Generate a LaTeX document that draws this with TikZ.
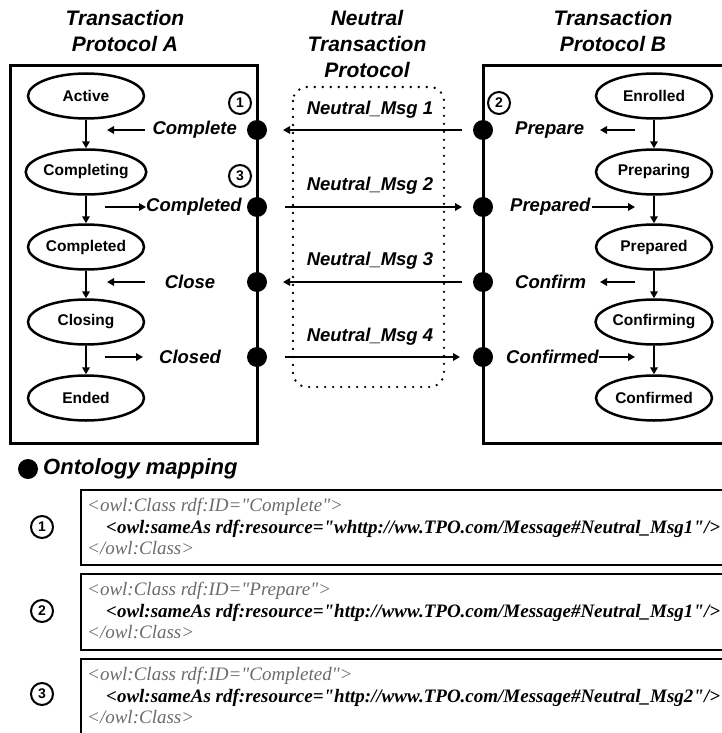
\documentclass[tikz,border=0pt]{standalone}
\usepackage{fontspec}
\setmainfont{Liberation Sans}
\newfontfamily\xmlfont{Liberation Serif}
\usetikzlibrary{arrows.meta,shapes.geometric}
\definecolor{xmlgray}{gray}{0.42}
\begin{document}
\begin{tikzpicture}[x=1pt,y=-1pt,
  st/.style={ellipse,draw,line width=2.5pt,minimum width=116pt,minimum height=45pt,inner sep=0pt,font=\fontsize{15.5}{15.5}\selectfont\bfseries},
  dotn/.style={circle,fill,minimum size=20pt,inner sep=0pt},
  num/.style={circle,draw,line width=2pt,minimum size=22pt,inner sep=0pt,font=\fontsize{14}{14}\selectfont\bfseries},
  arr/.style={line width=2.3pt,-{Triangle[length=7pt,width=7.5pt]}},
  lab/.style={font=\fontsize{18.5}{18.5}\selectfont\bfseries\itshape,inner sep=0pt},
  ttl/.style={font=\fontsize{21}{26}\selectfont\bfseries\itshape,align=center,inner sep=0pt},
  frame/.style={line width=3pt},
  xbox/.style={line width=1.6pt},
  xg/.style={font=\fontsize{19}{19}\selectfont\xmlfont\itshape,text=xmlgray,inner sep=0pt},
  xb/.style={font=\fontsize{19}{19}\selectfont\xmlfont\itshape\bfseries,inner sep=0pt}
]
\useasboundingbox (0,0) rectangle (721,733);
% titles
\node[ttl] (tA) at (125,31) {Transaction\\Protocol A};
\node[ttl] (tN) at (367,43.5) {Neutral\\Transaction\\Protocol};
\node[ttl] (tB) at (613,31) {Transaction\\Protocol B};
% frames
\draw[frame] (10,66) rectangle (257,443);
\draw[frame] (722,66) -- (483,66) -- (483,443) -- (722,443);
\draw[line width=2.6pt,dash pattern=on 0pt off 8pt,line cap=round,rounded corners=14pt] (293,87) rectangle (444,387);
% left states
\node[st] (a1) at (86,96) {Active};
\node[st] (a2) at (86,172) {Completing};
\node[st] (a3) at (86,247) {Completed};
\node[st] (a4) at (86,322) {Closing};
\node[st] (a5) at (86,398) {Ended};
\foreach \i/\j in {a1/a2,a2/a3,a3/a4,a4/a5} \draw[arr] (\i) -- (\j);
% right states
\node[st] (b1) at (654,96) {Enrolled};
\node[st] (b2) at (654,172) {Preparing};
\node[st] (b3) at (654,247) {Prepared};
\node[st] (b4) at (654,322) {Confirming};
\node[st] (b5) at (654,398) {Confirmed};
\foreach \i/\j in {b1/b2,b2/b3,b3/b4,b4/b5} \draw[arr] (\i) -- (\j);
% dots
\foreach \k/\y in {1/130,2/207,3/282,4/357}{
  \node[dotn] (dA\k) at (257,\y) {};
  \node[dotn] (dB\k) at (483,\y) {};
}
% circled numbers
\node[num] (n1) at (240,103) {1};
\node[num] (n3) at (240,176) {3};
\node[num] (n2) at (499,103) {2};
% left labels
\node[lab,anchor=east] (lc1) at (237,130) {Complete};
\coordinate (ls1) at (145,130); \coordinate (le1) at (107,130);
\draw[arr] (ls1) -- (le1);
\node[lab,anchor=west] (lc2) at (146,207) {Completed};
\coordinate (ls2) at (105,207);
\draw[arr] (ls2) -- (lc2.west);
\node[lab] (lc3) at (190,282) {Close};
\coordinate (ls3) at (145,282); \coordinate (le3) at (107,282);
\draw[arr] (ls3) -- (le3);
\node[lab] (lc4) at (190,357) {Closed};
\coordinate (ls4) at (105,357); \coordinate (le4) at (143,357);
\draw[arr] (ls4) -- (le4);
% right labels
\node[lab,anchor=west] (rc1) at (515,130) {Prepare};
\coordinate (rs1) at (635,130); \coordinate (re1) at (600,130);
\draw[arr] (rs1) -- (re1);
\node[lab,anchor=west] (rc2) at (510,207) {Prepared};
\coordinate (rs2) at (592,207); \coordinate (re2) at (635,207);
\draw[arr] (rs2) -- (re2);
\node[lab,anchor=west] (rc3) at (515,282) {Confirm};
\coordinate (rs3) at (635,282); \coordinate (re3) at (600,282);
\draw[arr] (rs3) -- (re3);
\node[lab,anchor=west] (rc4) at (506,357) {Confirmed};
\coordinate (re4) at (635,357);
\draw[arr] (rc4.east) -- (re4);
% neutral messages
\coordinate (m1s) at (462,130); \coordinate (m1e) at (283,130);
\coordinate (m2s) at (285,207); \coordinate (m2e) at (462,207);
\coordinate (m3s) at (462,282); \coordinate (m3e) at (283,282);
\coordinate (m4s) at (285,357); \coordinate (m4e) at (460,357);
\draw[arr] (m1s) -- (m1e);
\draw[arr] (m2s) -- (m2e);
\draw[arr] (m3s) -- (m3e);
\draw[arr] (m4s) -- (m4e);
\node[lab] (mt1) at (370,110) {Neutral\_Msg 1};
\node[lab] (mt2) at (370,186) {Neutral\_Msg 2};
\node[lab] (mt3) at (370,261) {Neutral\_Msg 3};
\node[lab] (mt4) at (370,337) {Neutral\_Msg 4};
% ontology mapping
\node[dotn] (od) at (28,469) {};
\node[font=\fontsize{22}{22}\selectfont\bfseries\itshape,anchor=west,inner sep=0pt] (ot) at (43,469) {Ontology mapping};
\draw[xbox] (722,490) -- (81,490) -- (81,565) -- (722,565);
\draw[xbox] (722,574) -- (81,574) -- (81,650) -- (722,650);
\draw[xbox] (722,659) -- (81,659) -- (81,740);
\node[num] (o1) at (42,527) {1};
\node[num] (o2) at (42,611) {2};
\node[num] (o3) at (42,694) {3};
% xml texts
\node[xg,anchor=base west] (x11) at (87,511) {<owl:Class rdf:ID="Complete">};
\node[xb,anchor=base west] (x12) at (106,533) {<owl:sameAs rdf:resource="whttp://ww.TPO.com/Message\#Neutral\_Msg1"/>};
\node[xg,anchor=base west] (x13) at (87,554) {</owl:Class>};
\node[xg,anchor=base west] (x21) at (87,595) {<owl:Class rdf:ID="Prepare">};
\node[xb,anchor=base west] (x22) at (106,617) {<owl:sameAs rdf:resource="http://www.TPO.com/Message\#Neutral\_Msg1"/>};
\node[xg,anchor=base west] (x23) at (87,638) {</owl:Class>};
\node[xg,anchor=base west] (x31) at (87,680) {<owl:Class rdf:ID="Completed">};
\node[xb,anchor=base west] (x32) at (106,702) {<owl:sameAs rdf:resource="http://www.TPO.com/Message\#Neutral\_Msg2"/>};
\node[xg,anchor=base west] (x33) at (87,723) {</owl:Class>};
\end{tikzpicture}
\end{document}
